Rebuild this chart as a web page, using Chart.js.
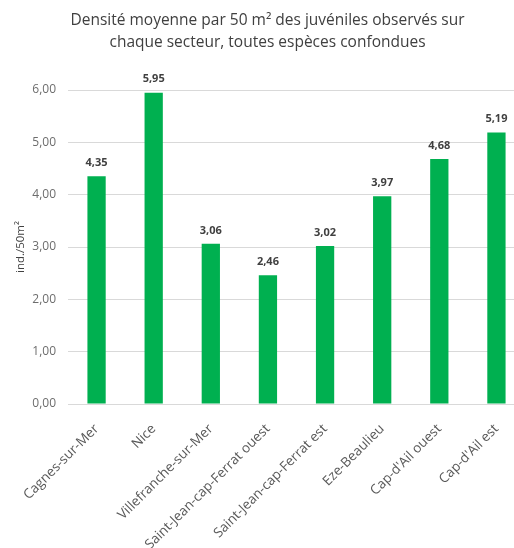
<!DOCTYPE html>
<html>
<head>
<meta charset="utf-8">
<script src="https://cdn.jsdelivr.net/npm/chart.js@4/dist/chart.umd.min.js"></script>
<style>
  html, body { margin: 0; padding: 0; background: #fff; overflow: hidden; }
  #wrap { width: 525px; height: 548px; position: relative; }
</style>
</head>
<body>
<div id="wrap"><canvas id="c"></canvas></div>
<script>
// Secteurs et densités moyennes (ind./50 m²)
const secteurs = [
  "Cagnes-sur-Mer",
  "Nice",
  "Villefranche-sur-Mer",
  "Saint-Jean-cap-Ferrat ouest",
  "Saint-Jean-cap-Ferrat est",
  "Eze-Beaulieu",
  "Cap-d'Ail ouest",
  "Cap-d'Ail est"
];
const densites = [4.35, 5.95, 3.06, 2.46, 3.02, 3.97, 4.68, 5.19];
const titre = [
  "Densité moyenne par 50 m² des juvéniles observés sur",
  "chaque secteur, toutes espèces confondues"
];
const titreAxeY = "ind./50m²";

const fmt = v => v.toFixed(2).replace(".", ",");
const FONT = "'Open Sans', Lato, sans-serif";

// Étiquettes de valeur au-dessus de chaque barre
const valeurs = {
  id: "valeurs",
  afterDatasetsDraw(chart) {
    const ctx = chart.ctx;
    const meta = chart.getDatasetMeta(0);
    ctx.save();
    ctx.font = "bold 11px " + FONT;
    ctx.fillStyle = "#404040";
    ctx.textAlign = "center";
    ctx.textBaseline = "bottom";
    meta.data.forEach((bar, i) => {
      ctx.fillText(fmt(densites[i]), bar.x, bar.y - 8);
    });
    ctx.restore();
  }
};

new Chart(document.getElementById("c"), {
  type: "bar",
  data: {
    labels: secteurs,
    datasets: [{
      data: densites,
      backgroundColor: "#00B050",
      borderWidth: 0,
      barPercentage: 0.64,
      categoryPercentage: 0.5
    }]
  },
  options: {
    responsive: true,
    maintainAspectRatio: false,
    animation: false,
    layout: { padding: { left: 10, right: 0, top: 0, bottom: 0 } },
    plugins: {
      legend: { display: false },
      tooltip: { enabled: false },
      title: {
        display: true,
        text: titre,
        color: "#404040",
        font: { family: FONT, size: 15.5, weight: "normal", lineHeight: 1.42 },
        padding: { top: 10, bottom: 36 }
      }
    },
    scales: {
      x: {
        grid: { display: false },
        border: { display: false },
        ticks: {
          color: "#595959",
          font: { family: FONT, size: 13.5 },
          minRotation: 45,
          maxRotation: 45,
          autoSkip: false,
          padding: 9
        },
        afterFit: s => { s.height = 144; }
      },
      y: {
        min: 0,
        max: 6,
        grid: { color: "#d9d9d9", drawTicks: false },
        border: { display: false },
        ticks: {
          stepSize: 1,
          color: "#6d6d6d",
          font: { family: FONT, size: 12 },
          padding: 12,
          callback: v => fmt(v)
        },
        title: {
          display: true,
          text: titreAxeY,
          color: "#404040",
          font: { family: FONT, size: 11.5 },
          padding: 4
        },
        afterFit: s => { s.width = 58; }
      }
    }
  },
  plugins: [valeurs]
});
</script>
</body>
</html>
